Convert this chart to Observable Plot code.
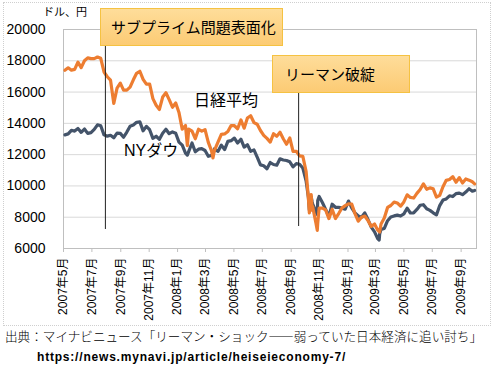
<!DOCTYPE html>
<html><head><meta charset="utf-8">
<script src="https://cdn.jsdelivr.net/npm/d3@7"></script>
<script src="https://cdn.jsdelivr.net/npm/@observablehq/plot@0.6"></script>
<style>
body{margin:0;background:#fff;}
#wrap{position:relative;width:495px;height:374px;overflow:hidden;font-family:"Noto Sans CJK JP",sans-serif;color:#000;}
#wrap svg{position:absolute;left:0;top:0;}
#frame{position:absolute;left:3px;top:2px;width:488px;height:324px;border:1px dotted #cfcfcf;box-sizing:border-box;}
.box{position:absolute;background:linear-gradient(#fedd9a,#fccb74);border:1px solid #f5c242;box-sizing:border-box;font-size:15px;line-height:1;white-space:nowrap;}
.lbl{position:absolute;white-space:nowrap;line-height:1;}
</style></head>
<body>
<div id="wrap">
  <div id="frame"></div>
</div>
<script>
const dates = ["2007-05-04","2007-05-11","2007-05-18","2007-05-25","2007-06-01","2007-06-08","2007-06-15","2007-06-22","2007-06-29","2007-07-06","2007-07-13","2007-07-20","2007-07-27","2007-08-03","2007-08-10","2007-08-17","2007-08-24","2007-08-31","2007-09-07","2007-09-14","2007-09-21","2007-09-28","2007-10-05","2007-10-12","2007-10-19","2007-10-26","2007-11-02","2007-11-09","2007-11-16","2007-11-23","2007-11-30","2007-12-07","2007-12-14","2007-12-21","2007-12-28",
"2008-01-04","2008-01-11","2008-01-18","2008-01-22","2008-01-25","2008-02-01","2008-02-08","2008-02-15","2008-02-22","2008-02-29","2008-03-07","2008-03-14","2008-03-17","2008-03-20","2008-03-28","2008-04-04","2008-04-11","2008-04-18","2008-04-25","2008-05-02","2008-05-09","2008-05-16","2008-05-23","2008-05-30","2008-06-06","2008-06-13","2008-06-20","2008-06-27","2008-07-04","2008-07-11","2008-07-18","2008-07-25","2008-08-01","2008-08-08","2008-08-15","2008-08-22","2008-08-29","2008-09-05","2008-09-12","2008-09-19","2008-09-26","2008-10-03","2008-10-08","2008-10-10","2008-10-14","2008-10-16","2008-10-17","2008-10-24","2008-10-27","2008-10-28","2008-10-31","2008-11-07","2008-11-14","2008-11-21","2008-11-28","2008-12-05","2008-12-12","2008-12-19","2008-12-26",
"2009-01-02","2009-01-09","2009-01-16","2009-01-23","2009-01-30","2009-02-06","2009-02-13","2009-02-20","2009-02-27","2009-03-06","2009-03-09","2009-03-10","2009-03-13","2009-03-20","2009-03-27","2009-04-03","2009-04-10","2009-04-17","2009-04-24","2009-05-01","2009-05-08","2009-05-15","2009-05-22","2009-05-29","2009-06-05","2009-06-12","2009-06-19","2009-06-26","2009-07-03","2009-07-10","2009-07-17","2009-07-24","2009-07-31","2009-08-07","2009-08-14","2009-08-21","2009-08-28","2009-09-04","2009-09-11","2009-09-18","2009-09-25","2009-09-30"];

const nikkei = [17394,17553,17400,17453,17910,17566,18001,18188,18138,18140,18238,18157,17284,16980,16764,15273,16248,16569,16122,16127,16313,16786,17199,17331,16814,16505,16517,15584,15154,14888,15680,15956,15514,15031,15307,
14691,13629,13861,12573,13629,13497,13017,13622,13500,13603,12782,12241,11787,12260,12820,13293,13323,13476,13863,13849,13655,14219,13690,14338,14489,14051,13942,13544,13237,13039,12803,13334,13168,13431,13019,12666,13072,12212,12214,11920,11893,10938,9203,8276,9447,8458,8693,7649,7162,7621,8576,8583,8462,7910,8512,7917,8235,8588,8739,
8860,8836,8230,7745,7994,8076,7779,7416,7568,7173,7086,7054,7569,7945,8626,8749,8964,8907,8707,8977,9432,9265,9225,9522,9768,10135,9786,9877,9816,9288,9395,9944,10357,10412,10597,10238,10534,10187,10444,10370,10265,10133];

const dow = [13265,13327,13556,13507,13668,13425,13639,13360,13409,13611,13908,13851,13266,13182,13240,13079,13379,13358,13113,13442,13821,13896,14066,14093,13522,13807,13595,13043,13177,12981,13372,13625,13339,13451,13366,
12800,12606,12099,11971,12207,12743,12182,12348,12381,12266,11894,11951,11972,12361,12216,12610,12325,12849,12892,13058,12745,12986,12480,12638,12209,12307,11843,11346,11288,11100,11496,11370,11326,11734,11659,11628,11544,11220,11421,11388,11143,10325,9258,8451,9310,8979,8852,8378,8175,9065,9325,8943,8497,8046,8829,8635,8629,8579,8515,
9034,8599,8281,8077,8001,8280,7850,7366,7063,6627,6547,6926,7224,7279,7776,8018,8083,8131,8076,8212,8575,8268,8277,8500,8763,8799,8539,8438,8280,8146,8743,9093,9171,9370,9321,9505,9544,9441,9605,9820,9665,9712];

const xTickDates = ["2007-05-01","2007-07-01","2007-09-01","2007-11-01","2008-01-01","2008-03-01","2008-05-01","2008-07-01","2008-09-01","2008-11-01","2009-01-01","2009-03-01","2009-05-01","2009-07-01","2009-09-01"];
const yTicks = [6000,8000,10000,12000,14000,16000,18000,20000];
const eventDates = ["2007-07-30","2008-09-17"];
const eventLabels = ["サブプライム問題表面化","リーマン破綻"];
const seriesLabels = ["日経平均","NYダウ"];
const unitLabel = "ドル、円";
const sourceText = "出典：マイナビニュース「リーマン・ショック――弱っていた日本経済に追い討ち」";
const sourceUrl = "https://news.mynavi.jp/article/heiseieconomy-7/";

const data = dates.map((d,i)=>({date:new Date(d), nikkei:nikkei[i], dow:dow[i]}));
const xTicks = xTickDates.map(d=>new Date(d));
const ev = eventDates.map(d=>new Date(d));

const chart = Plot.plot({
  width:495, height:330,
  marginLeft:63, marginRight:19, marginTop:29, marginBottom:82,
  style:{fontFamily:"'Liberation Sans', Arial, 'Noto Sans CJK JP', sans-serif", fontSize:"14px", color:"#000", background:"transparent", overflow:"visible"},
  x:{type:"utc", domain:[new Date("2007-05-01"), new Date("2009-10-04")]},
  y:{domain:[6000,20000]},
  marks:[
    Plot.gridY(yTicks,{stroke:"#d9d9d9", strokeOpacity:1}),
    Plot.frame({stroke:"#bfbfbf"}),
    Plot.axisY(yTicks,{tickSize:0, tickPadding:18, fontSize:14, label:null, tickFormat:d=>String(d)}),
    Plot.axisX(xTicks,{tickSize:4, stroke:"#bfbfbf", strokeOpacity:1, tickRotate:-90, fontSize:12, label:null, tickPadding:5,
      fontFamily:"'Liberation Sans', Arial, 'Noto Sans CJK JP', sans-serif",
      tickFormat:d=>`${d.getUTCFullYear()}年${d.getUTCMonth()+1}月`}),
    Plot.lineY(data,{x:"date", y:"dow", stroke:"#44546a", strokeWidth:3.2, curve:"linear"}),
    Plot.lineY(data,{x:"date", y:"nikkei", stroke:"#ed7d31", strokeWidth:3.2, curve:"linear"}),
    Plot.ruleX([ev[0]],{y1:18913, y2:7215, stroke:"#222", strokeWidth:1}),
    Plot.ruleX([ev[1]],{y1:15909, y2:7406, stroke:"#222", strokeWidth:1})
  ]
});
const wrap = document.getElementById("wrap");
wrap.appendChild(chart);

function addDiv(cls, text, css){
  const d = document.createElement("div");
  d.className = cls; d.textContent = text;
  Object.assign(d.style, css);
  wrap.appendChild(d);
  return d;
}
addDiv("box", eventLabels[0], {left:"100px", top:"8px", width:"183px", height:"38px", paddingLeft:"10px", paddingTop:"10px"});
addDiv("box", eventLabels[1], {left:"272px", top:"55px", width:"138px", height:"38px", paddingLeft:"12px", paddingTop:"10px"});
addDiv("lbl", seriesLabels[0], {left:"194px", top:"91px", fontSize:"16px"});
addDiv("lbl", seriesLabels[1], {left:"124px", top:"143px", fontSize:"16px", fontFamily:"'Liberation Sans','Noto Sans CJK JP',sans-serif"});
addDiv("lbl", unitLabel, {left:"43px", top:"6px", fontSize:"11px"});
addDiv("lbl", sourceText, {left:"5px", top:"330px", fontSize:"12.6px", fontWeight:"300"});
addDiv("lbl", sourceUrl, {left:"37px", top:"351px", fontSize:"12px", fontWeight:"bold", letterSpacing:"0.8px", fontFamily:"'Liberation Sans',Arial,sans-serif"});
</script>
</body></html>
